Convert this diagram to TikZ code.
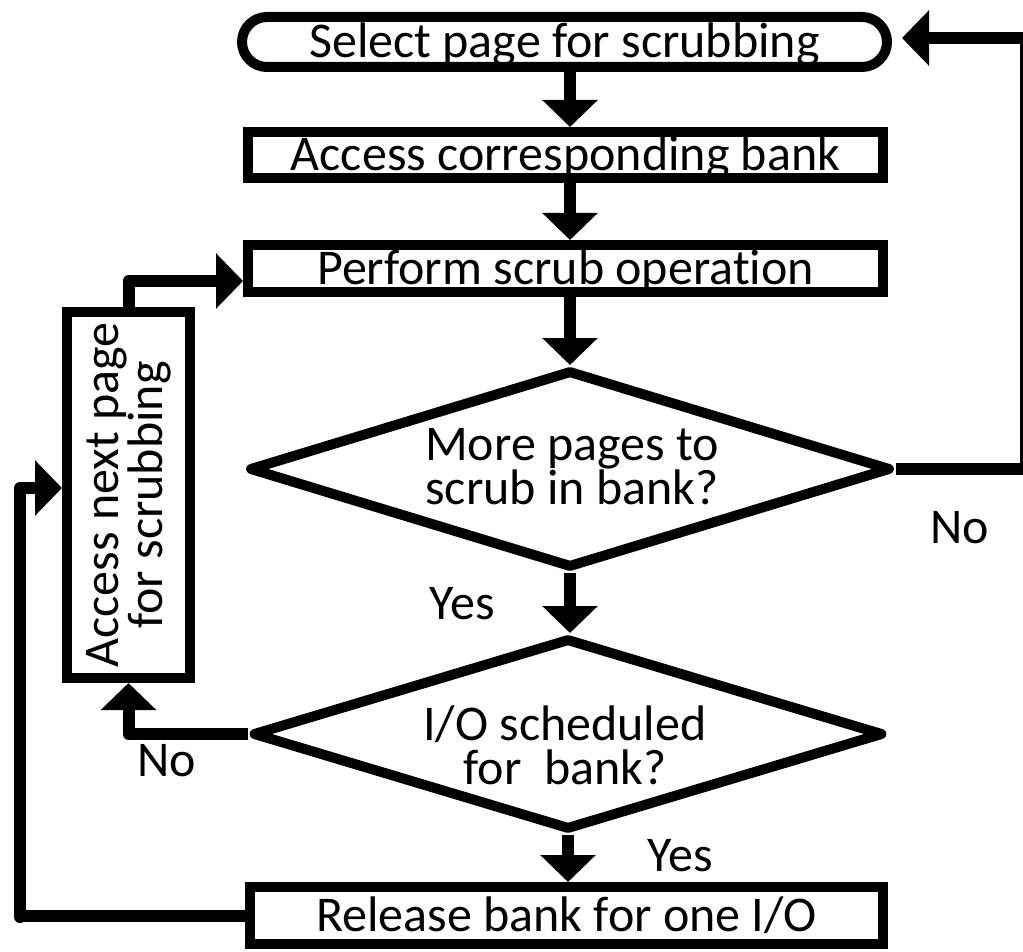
\documentclass[tikz,border=0pt]{standalone}
\usepackage{fontspec}
\setmainfont{Carlito}[Ligatures=NoCommon]
\usetikzlibrary{arrows.meta,shapes.geometric,calc}
\begin{document}
\begin{tikzpicture}[x=1pt,y=-1pt,
  every node/.style={inner sep=0pt,font=\fontsize{50pt}{44pt}\selectfont},
  procbox/.style={draw,line width=10pt,text height=32pt,text depth=0pt},
  termbox/.style={procbox,rounded corners=25pt},
  decide/.style={draw,shape=diamond,line width=10pt,line join=round},
  arr/.style={line width=12pt,line join=round,-{Triangle[width=54pt,length=27pt]}},
  lbl/.style={text height=32pt,text depth=0pt}]
\useasboundingbox (0,0) rectangle (1023,952);
% nodes
\node[termbox,minimum width=645pt,minimum height=50pt] (sel) at (564.5,42) {Select page for scrubbing};
\node[procbox,minimum width=635pt,minimum height=46pt] (acc) at (565.5,155) {Access corresponding bank};
\node[procbox,minimum width=635pt,minimum height=47pt] (perf) at (565.5,268.5) {Perform scrub operation};
\node[decide,minimum width=642pt,minimum height=198pt] (d1) at (570,469) {};
\node[align=center] (d1t) at (572,467) {More pages to\\scrub in bank?};
\node[decide,minimum width=631pt,minimum height=192pt] (d2) at (568,734) {};
\node[align=center] (d2t) at (565,745) {I/O scheduled\\for\ \ bank?};
\node[procbox,minimum width=633pt,minimum height=57pt] (rel) at (566.5,915.5) {Release bank for one I/O};
\node[draw,line width=10pt,rotate=90,minimum width=366pt,minimum height=123pt,align=center] (nxt) at (128.5,495) {Access next page\\for scrubbing};
% labels
\node[lbl] (yes1) at (462,603) {Yes};
\node[lbl] (yes2) at (680,855) {Yes};
\node[lbl] (no1) at (960,527) {No};
\node[lbl] (no2) at (167,760) {No};
% helper coordinates
\coordinate (lft) at (20,917);
\coordinate (rgt) at (1026,38);
% connectors
\draw[arr] (sel.south -| d1.north) -- (acc.north -| d1.north);
\draw[arr] (acc.south -| d1.north) -- (perf.north -| d1.north);
\draw[arr] (perf.south -| d1.north) -- (d1.north);
\draw[arr] (d1.south) -- (d2.north -| d1.south);
\draw[arr] (d2.south) -- (rel.north -| d2.south);
\draw[arr] (d2.west) -| (nxt.west);
\draw[arr] (rel.west) -| (lft) |- ($(nxt.north)+(0,-7)$);
\draw[arr] (nxt.east) |- ($(perf.west)+(0,12.5)$);
\draw[arr] (d1.east) -| (rgt) -- ($(sel.east |- rgt)+(10,0)$);
\end{tikzpicture}
\end{document}
